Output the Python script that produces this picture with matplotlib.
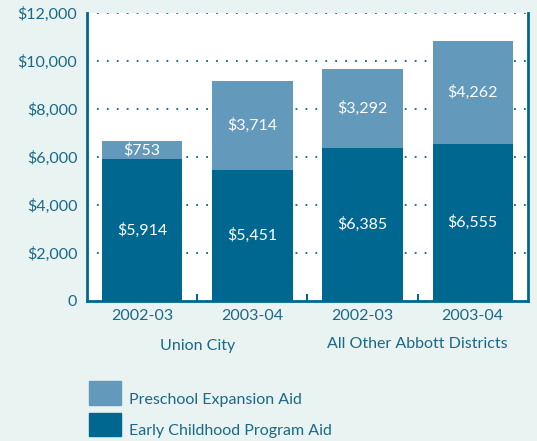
import matplotlib.pyplot as plt
from matplotlib.patches import Rectangle

# data
years = ["2002-03", "2003-04", "2002-03", "2003-04"]
groups = ["Union City", "All Other Abbott Districts"]
early_aid = [5914, 5451, 6385, 6555]
preschool_aid = [753, 3714, 3292, 4262]
yticks = [0, 2000, 4000, 6000, 8000, 10000, 12000]
ytick_labels = ["0", "$2,000", "$4,000", "$6,000", "$8,000", "$10,000", "$12,000"]
legend_labels = ["Preschool Expansion Aid", "Early Childhood Program Aid"]

dark = "#006890"
light = "#6399bb"
bg = "#e9f3f1"
txt = "#1b6888"
fs = 11.5

plt.rcParams['font.family'] = ['Lato', 'DejaVu Sans']

W, H = 537, 441
fig = plt.figure(figsize=(W / 100, H / 100), dpi=100, facecolor=bg)
ax = fig.add_axes([0.162, 0.3175, 0.821, 0.653])
ax.set_facecolor("white")

x = range(len(years))
ax.bar(x, early_aid, width=0.73, color=dark, zorder=3)
ax.bar(x, preschool_aid, width=0.73, bottom=early_aid, color=light, zorder=3)

for i in x:
    ax.text(i, early_aid[i] / 2, f"${early_aid[i]:,}", ha="center", va="center",
            color="white", fontsize=fs, zorder=4)
    ax.text(i, early_aid[i] + preschool_aid[i] / 2, f"${preschool_aid[i]:,}",
            ha="center", va="center", color="white", fontsize=fs, zorder=4)

ax.set_xlim(-0.5, 3.5)
ax.set_ylim(0, 12000)
ax.set_yticks(yticks)
ax.set_yticklabels(ytick_labels)
ax.tick_params(axis="y", length=0, labelsize=fs, labelcolor=txt, pad=7)
ax.yaxis.grid(True, linestyle=(0, (1, 4.5)), color=dark, linewidth=1.3, zorder=1)

ax.set_xticks(list(x))
ax.set_xticklabels(years)
ax.tick_params(axis="x", length=0, labelsize=fs, labelcolor=txt, pad=6)
ax.set_xticks([0.5, 1.5, 2.5], minor=True)
ax.tick_params(axis="x", which="minor", direction="in", length=5, width=1.5, color=dark)

for s in ["left", "right", "bottom"]:
    ax.spines[s].set_color(dark)
    ax.spines[s].set_linewidth(2)
ax.spines["top"].set_visible(False)

ax.text(0.5, -0.155, groups[0], transform=ax.get_xaxis_transform(), ha="center",
        va="center", fontsize=fs, color=txt)
ax.text(2.5, -0.148, groups[1], transform=ax.get_xaxis_transform(), ha="center",
        va="center", fontsize=fs, color=txt)

# legend drawn by hand (pixel positions from the top-left)
for label, color, top in zip(legend_labels, [light, dark], [381, 412.5]):
    fig.add_artist(Rectangle((89 / W, 1 - (top + 23.5) / H), 32 / W, 23.5 / H,
                             transform=fig.transFigure, color=color))
    fig.text(129 / W, 1 - (top + 23) / H, label, ha="left", va="baseline",
             fontsize=fs, color=txt)

fig.savefig("out.png", dpi=100, facecolor=bg)
